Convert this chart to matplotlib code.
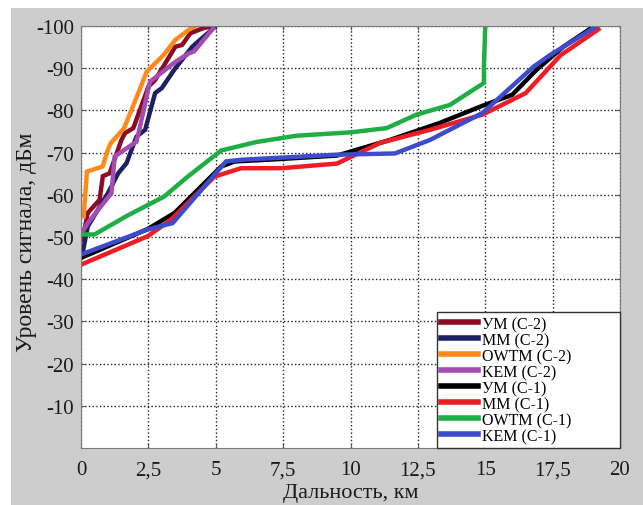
#!/usr/bin/env python3

import matplotlib.pyplot as plt
from matplotlib.patches import Rectangle

# series: distance (km) / signal level (dBm)
um2_x = [0.06, 0.25, 0.69, 0.81, 1.06, 1.5, 1.63, 1.94, 2.5, 2.75, 3.5, 3.75, 4.06, 4.5, 4.87]
um2_y = [-49.4, -55.7, -58.8, -64.4, -65.1, -73.0, -74.6, -75.8, -85.6, -87.2, -95.1, -95.5, -98.3, -99.4, -100]

mm2_x = [0.06, 0.25, 1.0, 1.38, 1.69, 2.06, 2.38, 2.75, 3.0, 3.5, 3.75, 4.13, 4.56, 4.94]
mm2_y = [-46.2, -52.5, -60.4, -65.1, -67.5, -73.8, -75.4, -84.1, -85.3, -90.0, -92.0, -95.1, -97.5, -99.6]

owtm2_x = [0.1, 0.22, 0.8, 1.0, 1.1, 1.6, 2.2, 2.44, 3.06, 3.5, 4.06, 4.25]
owtm2_y = [-54.9, -65.5, -66.7, -70.7, -72.2, -75.8, -85.3, -89.2, -93.1, -96.7, -99.4, -100]

kem2_x = [0.03, 0.25, 1.13, 1.25, 2.06, 2.19, 2.56, 3.5, 4.0, 4.2, 4.9]
kem2_y = [-50.9, -53.3, -60.4, -69.1, -72.6, -76.2, -86.8, -91.5, -93.5, -94.0, -99.4]

um1_x = [0.02, 2.48, 3.47, 5.2, 5.7, 7.18, 9.5, 11.46, 13.3, 14.9, 16.0, 16.9, 17.9, 19.0]
um1_y = [-45.1, -51.9, -55.7, -66.7, -67.9, -68.4, -69.3, -73.0, -77.0, -81.1, -83.7, -89.6, -95.1, -99.8]

mm1_x = [0.02, 2.48, 3.34, 4.95, 5.94, 7.43, 9.5, 11.1, 12.95, 14.9, 16.5, 17.8, 19.2]
mm1_y = [-43.5, -50.2, -54.1, -64.3, -66.3, -66.3, -67.4, -72.3, -75.4, -79.0, -84.1, -93.1, -99.2]

owtm1_x = [0.02, 0.5, 1.73, 3.09, 3.96, 5.2, 6.5, 8.0, 10.0, 11.34, 12.45, 13.69, 14.95, 14.95, 15.0]
owtm1_y = [-50.6, -50.6, -55.1, -59.6, -64.3, -70.5, -72.5, -74.0, -74.8, -75.8, -79.0, -81.3, -86.5, -90.4, -100]

kem1_x = [0.02, 2.48, 3.4, 5.38, 5.94, 9.5, 11.65, 12.95, 14.9, 16.8, 17.4, 19.1]
kem1_y = [-45.9, -51.8, -53.3, -67.9, -68.3, -69.5, -69.8, -73.0, -79.4, -90.4, -93.1, -99.8]

labels = ['УМ (С-2)', 'ММ (С-2)', 'OWTM (С-2)', 'KEM (С-2)',
          'УМ (С-1)', 'ММ (С-1)', 'OWTM (С-1)', 'KEM (С-1)']
colors = ['#8c0a24', '#1c2160', '#ff8a1c', '#a44cb4',
          '#000000', '#ee1c24', '#1fae44', '#3c4ccc']
xs = [um2_x, mm2_x, owtm2_x, kem2_x, um1_x, mm1_x, owtm1_x, kem1_x]
ys = [um2_y, mm2_y, owtm2_y, kem2_y, um1_y, mm1_y, owtm1_y, kem1_y]

xticks = [0, 2.5, 5, 7.5, 10, 12.5, 15, 17.5, 20]
xticklabels = ['0', '2,5', '5', '7,5', '10', '12,5', '15', '17,5', '20']
yticks = [-100, -90, -80, -70, -60, -50, -40, -30, -20, -10]

plt.rcParams['font.family'] = ['Liberation Serif', 'DejaVu Serif']
plt.rcParams['axes.unicode_minus'] = False

fig = plt.figure(figsize=(6.43, 5.06), dpi=100, facecolor='white')
fig.patches.append(Rectangle((11/643, 0), 1, 1 - 9/506, transform=fig.transFigure,
                             facecolor='#cdcdcd', edgecolor='none', zorder=-10))
ax = fig.add_axes([81/643, 1 - 449/506, (620-81)/643, (449-27)/506])

for x, y, c, l in zip(xs, ys, colors, labels):
    ax.plot(x, y, color=c, lw=3.2, label=l, solid_joinstyle='miter')

ax.set_xlim(0, 20)
ax.set_ylim(0, -100)
ax.set_xticks(xticks)
ax.set_xticklabels(xticklabels)
ax.set_yticks(yticks)
ax.tick_params(direction='in', length=3, labelsize=15, colors='#555555',
               labelcolor='#1a1a1a', top=True, right=True)
ax.tick_params(axis='x', pad=9)
ax.tick_params(axis='y', pad=5)
ax.grid(True, linestyle=':', color='#222222', lw=1.0)
for s in ax.spines.values():
    s.set_color('#7a7a7a')

ax.set_xlabel('Дальность, км', fontsize=16, color='#1a1a1a')
ax.xaxis.set_label_coords(0.5, -0.082)
ax.set_ylabel('Уровень сигнала, дБм', fontsize=17, color='#1a1a1a')
ax.yaxis.set_label_coords(-0.082, 0.49)

leg = ax.legend(loc='lower left', bbox_to_anchor=(0.6605, 0, 0.3395, 0.3), mode='expand',
                fontsize=11.5, borderaxespad=0, labelspacing=0.0,
                handlelength=2.3, handletextpad=0.25, borderpad=0.25, fancybox=False,
                framealpha=1, edgecolor='#333333')
leg.get_frame().set_linewidth(1.0)
for line in leg.get_lines():
    line.set_linewidth(4)

fig.savefig('out.png', dpi=100, facecolor=fig.get_facecolor())
